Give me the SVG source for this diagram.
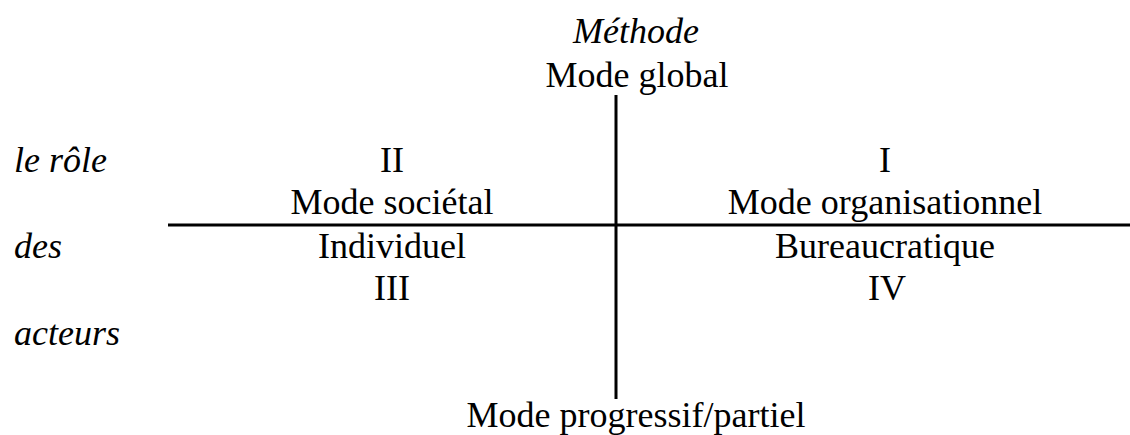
<svg xmlns="http://www.w3.org/2000/svg" width="1130" height="435" viewBox="0 0 1130 435">
<style>
text{font-family:"Liberation Serif","Times New Roman",serif;font-size:36px;fill:#000}
.c{text-anchor:middle}
.i{font-style:italic}
.ln{stroke:#000;stroke-width:3;fill:none}
</style>
<rect width="1130" height="435" fill="#fff"/>
<g id="connectors">
<line class="ln" x1="616" y1="95" x2="616" y2="399"/>
<line class="ln" x1="168" y1="225" x2="1130" y2="225"/>
</g>
<g id="top">
<text class="c i" x="636" y="43">Méthode</text>
<text class="c" x="637" y="87">Mode global</text>
</g>
<g id="axis-label">
<text class="i" x="14" y="172">le rôle</text>
<text class="i" x="14" y="258">des</text>
<text class="i" x="14" y="345">acteurs</text>
</g>
<g id="q2">
<text class="c" x="392" y="172">II</text>
<text class="c" x="392" y="214">Mode sociétal</text>
</g>
<g id="q1">
<text class="c" x="885" y="172">I</text>
<text class="c" x="885" y="214">Mode organisationnel</text>
</g>
<g id="q3">
<text class="c" x="392" y="258">Individuel</text>
<text class="c" x="392" y="300">III</text>
</g>
<g id="q4">
<text class="c" x="885" y="258">Bureaucratique</text>
<text class="c" x="887" y="300">IV</text>
</g>
<g id="bottom">
<text class="c" x="636" y="427">Mode progressif/partiel</text>
</g>
</svg>
